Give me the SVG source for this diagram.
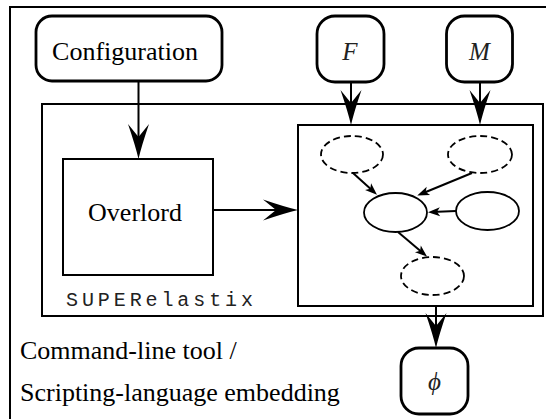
<svg xmlns="http://www.w3.org/2000/svg" width="546" height="419" viewBox="0 0 546 419">
<style>
.frame{fill:none;stroke:#000;stroke-width:2}
.rbox{fill:#fff;stroke:#000;stroke-width:2.8}
.box{fill:#fff;stroke:#000;stroke-width:2}
.ell{fill:#fff;stroke:#000;stroke-width:1.8}
.dash{fill:#fff;stroke:#000;stroke-width:1.8;stroke-dasharray:7 4}
.big{fill:none;stroke:#000;stroke-width:2}
.small{fill:none;stroke:#000;stroke-width:2}
.serif{font-family:"Liberation Serif","Times New Roman",serif;font-size:26px;fill:#000}
.math{font-family:"Liberation Serif","Times New Roman",serif;font-style:italic;font-size:25px;fill:#222}
.mono{font-family:"Liberation Mono","Courier New",monospace;font-size:20px;fill:#222}
</style>
<defs>
<marker id="bigArrow" markerUnits="userSpaceOnUse" viewBox="-30 -12 48 24" refX="0" refY="0" markerWidth="48" markerHeight="24" orient="auto">
<path d="M15,0 Q2,-3 -20,-10.5 L-7,0 L-20,10.5 Q2,3 15,0 Z" fill="#000"/>
</marker>
<marker id="smallArrow" markerUnits="userSpaceOnUse" viewBox="-12 -6 18 12" refX="0" refY="0" markerWidth="18" markerHeight="12" orient="auto">
<path d="M4,0 L-8,-4.5 L-5,0 L-8,4.5 Z" fill="#000"/>
</marker>
</defs>
<rect width="546" height="419" fill="#fff"/>
<g id="outer-frame">
<rect class="frame" x="10" y="7" width="560" height="430"/>
<text class="serif" x="20" y="359">Command-line tool /</text>
<text class="serif" x="20" y="401">Scripting-language embedding</text>
</g>
<g id="superelastix">
<rect class="frame" x="42" y="104" width="501" height="212"/>
<text class="mono" x="66" y="306" textLength="187" lengthAdjust="spacing">SUPERelastix</text>
</g>
<g id="connectors">
<path class="big" d="M138.5,81 V144" marker-end="url(#bigArrow)"/>
<path class="big" d="M351,82 V110" marker-end="url(#bigArrow)"/>
<path class="big" d="M480,82 V110" marker-end="url(#bigArrow)"/>
<path class="big" d="M213,210 H283" marker-end="url(#bigArrow)"/>
<path class="big" d="M436,306 V333" marker-end="url(#bigArrow)"/>
</g>
<g id="configuration">
<rect class="rbox" x="36" y="16" width="186" height="65" rx="16"/>
<text class="serif" x="125" y="60" text-anchor="middle">Configuration</text>
</g>
<g id="F">
<rect class="rbox" x="317" y="16" width="67" height="66" rx="18"/>
<text class="math" x="350" y="60" text-anchor="middle">F</text>
</g>
<g id="M">
<rect class="rbox" x="446.5" y="16" width="66" height="66" rx="18"/>
<text class="math" x="479.5" y="60" text-anchor="middle">M</text>
</g>
<g id="overlord">
<rect class="box" x="63" y="159" width="150" height="116"/>
<text class="serif" x="135" y="221" text-anchor="middle">Overlord</text>
</g>
<g id="pipeline">
<rect class="box" x="298" y="125" width="235" height="181"/>
<g id="node-fixed"><ellipse class="dash" cx="352" cy="154.5" rx="31" ry="18.5"/></g>
<g id="node-moving"><ellipse class="dash" cx="480" cy="154.5" rx="32" ry="18.5"/></g>
<g id="node-center"><ellipse class="ell" cx="395.5" cy="212.5" rx="31.5" ry="19.5"/></g>
<g id="node-right"><ellipse class="ell" cx="487.5" cy="211" rx="31.5" ry="19"/></g>
<g id="node-output"><ellipse class="dash" cx="432.5" cy="276" rx="31.5" ry="19"/></g>
<g id="pipeline-connectors">
<path class="small" d="M353,173 L374,192" marker-end="url(#smallArrow)"/>
<path class="small" d="M472,173 L421,194" marker-end="url(#smallArrow)"/>
<path class="small" d="M456,211 L432,212" marker-end="url(#smallArrow)"/>
<path class="small" d="M398,232 L424,254" marker-end="url(#smallArrow)"/>
</g>
</g>
<g id="phi">
<rect class="rbox" x="401" y="348" width="67" height="66" rx="18"/>
<text class="math" x="434.5" y="390" text-anchor="middle">ϕ</text>
</g>
</svg>
